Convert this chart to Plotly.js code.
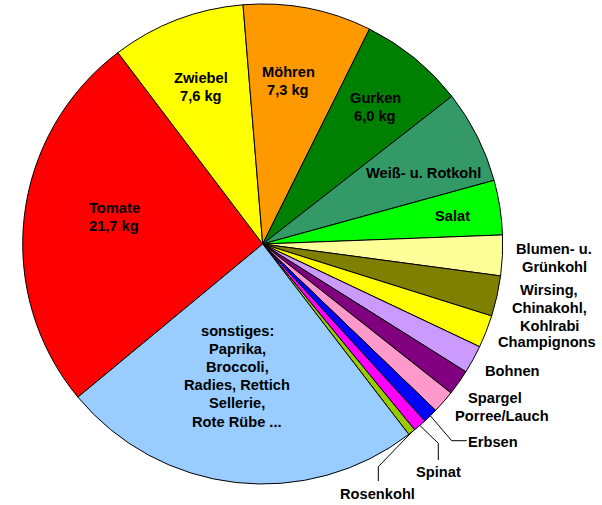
<!DOCTYPE html>
<html>
<head>
<meta charset="utf-8">
<script src="https://cdn.plot.ly/plotly-3.0.1.min.js"></script>
<style>html,body{margin:0;padding:0;background:#fff;}#chart{width:602px;height:505px;}</style>
</head>
<body>
<div id="chart"></div>
<script>
// ---- data (kg) ----
const categories = ["Tomate", "Zwiebel", "Möhren", "Gurken", "Weiß- u. Rotkohl", "Salat",
  "Blumen- u. Grünkohl", "Wirsing, Chinakohl, Kohlrabi", "Champignons", "Bohnen", "Spargel",
  "Porree/Lauch", "Erbsen", "Spinat", "Rosenkohl", "sonstiges"];
const values = [21.7, 7.6, 7.3, 6.0, 5.3, 3.1, 2.3, 2.3, 1.85, 1.6, 1.45, 1.3, 0.85, 0.75, 0.42, 20.6];
const labelTexts = ["Tomate<br>21,7 kg", "Zwiebel<br>7,6 kg", "Möhren<br>7,3 kg", "Gurken<br>6,0 kg",
  "Weiß- u. Rotkohl", "Salat", "Blumen- u.<br>Grünkohl", "Wirsing,<br>Chinakohl,<br>Kohlrabi",
  "Champignons", "Bohnen", "Spargel", "Porree/Lauch", "Erbsen", "Spinat", "Rosenkohl",
  "sonstiges:<br>Paprika,<br>Broccoli,<br>Radies, Rettich<br>Sellerie,<br>Rote Rübe ..."];

// ---- styles ----
const colors = ["#FF0000", "#FFFF00", "#FF9900", "#008000", "#339966", "#00FF00",
  "#FFFF99", "#808000", "#FFFF00", "#CC99FF", "#800080", "#FF99CC", "#0000FF",
  "#FF00FF", "#99CC00", "#99CCFF"];
const W = 602, H = 505;
const CX = 262.7, CY = 244, R = 240;
const ROT = 230.35;
const LINE_H = 18.2;
// label centre positions (pixels)
const labelPos = [[114, 217], [201, 87], [288, 81], [375, 107], [423, 173], [452, 216],
  [554, 258], [549, 308], [547, 342], [512, 371], [495, 398], [502, 416],
  [493, 442], [439, 472], [377, 494], [237, 376]];
// leader knees/ends for slices with outside labels
const leaders = {
  12: [[451.7, 440.7], [466.7, 440.7]],
  13: [[438.3, 443.3], [438.3, 460]],
  14: [[378.3, 466.7], [378.3, 481]]
};

const px = x => x / W;
const py = y => 1 - y / H;

const total = values.reduce((a, b) => a + b, 0);
const cum = [];
let acc = 0;
values.forEach(v => { cum.push(acc); acc += v; });

const annotations = [];
labelTexts.forEach((t, i) => {
  const lines = t.split('<br>');
  const n = lines.length;
  lines.forEach((ln, j) => {
    annotations.push({
      x: px(labelPos[i][0]), y: py(labelPos[i][1] + (j - (n - 1) / 2) * LINE_H),
      xref: 'paper', yref: 'paper',
      text: ln, showarrow: false, xanchor: 'center', yanchor: 'middle', align: 'center',
      font: {family: 'Arial, "Liberation Sans", sans-serif', size: 14.67, color: '#000', weight: 'bold'}
    });
  });
});

const shapes = [];
Object.keys(leaders).forEach(k => {
  const i = +k;
  const a = (ROT + (cum[i] + values[i] / 2) / total * 360) * Math.PI / 180;
  const sx = CX + R * Math.sin(a), sy = CY - R * Math.cos(a);
  const pts = [[sx, sy]].concat(leaders[k]);
  let path = 'M' + pts.map(p => px(p[0]) + ',' + py(p[1])).join(' L');
  shapes.push({type: 'path', xref: 'paper', yref: 'paper', path: path,
    line: {color: '#000', width: 1}});
});

const trace = {
  type: 'pie',
  labels: categories,
  values: values,
  sort: false,
  direction: 'clockwise',
  rotation: ROT - 360,
  marker: {colors: colors, line: {color: '#000', width: 1}},
  textinfo: 'none',
  textposition: 'none',
  hoverinfo: 'label+value',
  showlegend: false,
  domain: {x: [(CX - R) / W, (CX + R) / W], y: [(H - CY - R) / H, (H - CY + R) / H]}
};

const layout = {
  width: W, height: H,
  margin: {l: 0, r: 0, t: 0, b: 0},
  paper_bgcolor: '#fff',
  showlegend: false,
  annotations: annotations,
  shapes: shapes
};

Plotly.newPlot('chart', [trace], layout, {displayModeBar: false, staticPlot: true});
</script>
</body>
</html>
